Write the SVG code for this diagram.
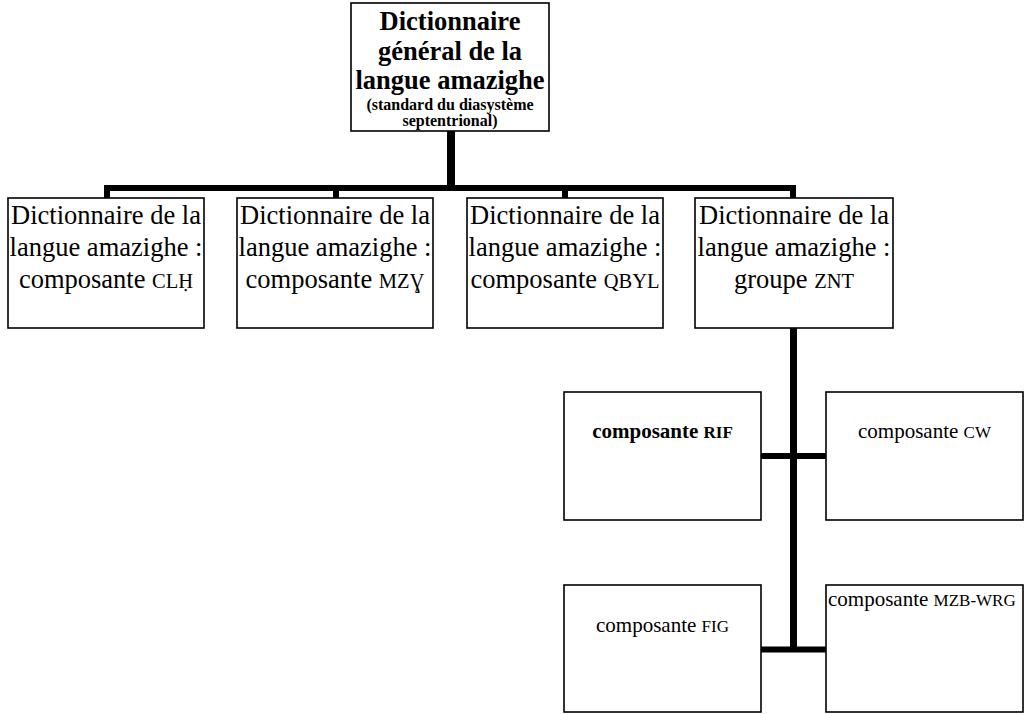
<svg xmlns="http://www.w3.org/2000/svg" width="1028" height="714" viewBox="0 0 1028 714">
<style>
.box{fill:#fff;stroke:#000;stroke-width:1.6}
.t{font-family:"Liberation Serif","Times New Roman",serif;fill:#000}
.b{font-weight:bold}
.l2{font-size:26.5px;text-anchor:middle}
.l3{font-size:21px}
.sc2{font-size:20.5px}
.sc3{font-size:17px}
.con{stroke:#000;fill:none}
</style>
<rect width="1028" height="714" fill="#fff"/>
<g id="connectors">
<line class="con" x1="451" y1="130" x2="451" y2="188" stroke-width="8"/>
<line class="con" x1="104" y1="188" x2="796" y2="188" stroke-width="6"/>
<line class="con" x1="107" y1="188" x2="107" y2="198" stroke-width="6"/>
<line class="con" x1="336" y1="188" x2="336" y2="198" stroke-width="6"/>
<line class="con" x1="565" y1="188" x2="565" y2="198" stroke-width="6"/>
<line class="con" x1="793" y1="188" x2="793" y2="198" stroke-width="6"/>
<line class="con" x1="793.5" y1="328" x2="793.5" y2="652" stroke-width="7"/>
<line class="con" x1="761" y1="456" x2="826" y2="456" stroke-width="6"/>
<line class="con" x1="761" y1="649.5" x2="826" y2="649.5" stroke-width="6"/>
</g>
<g id="root">
<rect class="box" x="351" y="3" width="198" height="128"/>
<text class="t b" text-anchor="middle" font-size="26.5"><tspan x="450" y="30">Dictionnaire</tspan><tspan x="450" y="60">général de la</tspan><tspan x="450" y="89">langue amazighe</tspan></text>
<text class="t b" text-anchor="middle" font-size="16"><tspan x="450" y="110">(standard du diasystème</tspan><tspan x="450" y="126">septentrional)</tspan></text>
</g>
<g id="clh">
<rect class="box" x="8" y="198" width="196" height="130"/>
<text class="t l2"><tspan x="106" y="224">Dictionnaire de la</tspan><tspan x="106" y="256">langue amazighe :</tspan><tspan x="106" y="288">composante <tspan class="sc2">CLḤ</tspan></tspan></text>
</g>
<g id="mzy">
<rect class="box" x="237" y="198" width="196" height="130"/>
<text class="t l2"><tspan x="335" y="224">Dictionnaire de la</tspan><tspan x="335" y="256">langue amazighe :</tspan><tspan x="335" y="288">composante <tspan class="sc2">MZƔ</tspan></tspan></text>
</g>
<g id="qbyl">
<rect class="box" x="467" y="198" width="196" height="130"/>
<text class="t l2"><tspan x="565" y="224">Dictionnaire de la</tspan><tspan x="565" y="256">langue amazighe :</tspan><tspan x="565" y="288">composante <tspan class="sc2">QBYL</tspan></tspan></text>
</g>
<g id="znt">
<rect class="box" x="695" y="198" width="198" height="130"/>
<text class="t l2"><tspan x="794" y="224">Dictionnaire de la</tspan><tspan x="794" y="256">langue amazighe :</tspan><tspan x="794" y="288">groupe <tspan class="sc2">ZNT</tspan></tspan></text>
</g>
<g id="rif">
<rect class="box" x="564" y="392" width="197" height="128"/>
<text class="t b l3" x="662.5" y="438" text-anchor="middle">composante <tspan class="sc3">RIF</tspan></text>
</g>
<g id="cw">
<rect class="box" x="826" y="392" width="197" height="128"/>
<text class="t l3" x="924.5" y="438" text-anchor="middle">composante <tspan class="sc3">CW</tspan></text>
</g>
<g id="fig">
<rect class="box" x="564" y="585" width="197" height="127"/>
<text class="t l3" x="662.5" y="632" text-anchor="middle">composante <tspan class="sc3">FIG</tspan></text>
</g>
<g id="mzbwrg">
<rect class="box" x="826" y="585" width="197" height="127"/>
<text class="t l3" x="828" y="606">composante <tspan class="sc3">MZB-WRG</tspan></text>
</g>
</svg>
